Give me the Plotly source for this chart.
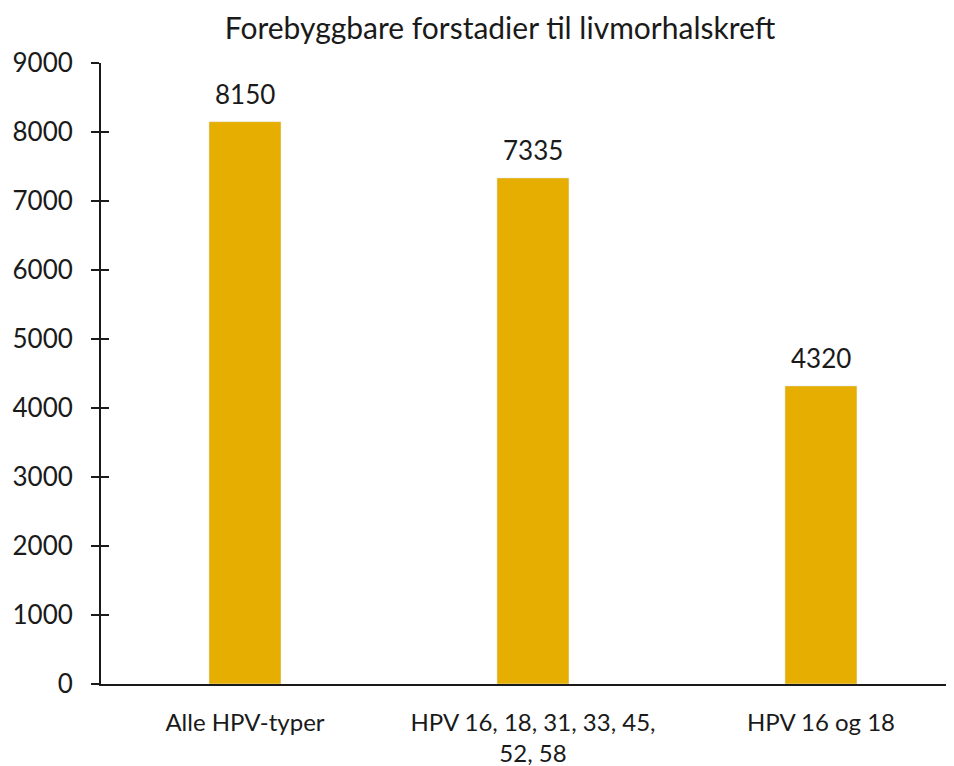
import plotly.graph_objects as go

categories = ["Alle HPV-typer", "HPV 16, 18, 31, 33, 45,<br>52, 58", "HPV 16 og 18"]
values = [8150, 7335, 4320]
value_labels = ["8150", "7335", "4320"]
y_ticks = [0, 1000, 2000, 3000, 4000, 5000, 6000, 7000, 8000, 9000]
title_text = "Forebyggbare forstadier til livmorhalskreft"

BAR = "#E5AE00"
INK = "#1a1a1a"
FONT = "Lato"
WEIGHT = 400

# page body adds an 8px margin; size figure to fit the window
W, H = 946, 758

fig = go.Figure()
fig.add_trace(go.Bar(
    x=[0, 1, 2], y=values, width=0.25,
    marker=dict(color=BAR, line=dict(width=0)),
    hoverinfo="skip",
))
# invisible trace to carry the inside-tick overlay axis
fig.add_trace(go.Bar(
    x=[0, 1, 2], y=values, width=0.25, yaxis="y2",
    marker=dict(color="rgba(0,0,0,0)"), hoverinfo="skip", showlegend=False,
))

for i, (v, lab) in enumerate(zip(values, value_labels)):
    fig.add_annotation(x=i, y=v, xref="x", yref="y", text=lab, showarrow=False,
                       yanchor="bottom", yshift=10,
                       font=dict(family=FONT, size=26, color=INK, weight=WEIGHT))

fig.update_layout(
    width=W, height=H,
    margin=dict(l=93, r=0, t=55, b=82, pad=0, autoexpand=False),
    paper_bgcolor="white", plot_bgcolor="white",
    showlegend=False,
    font=dict(family=FONT, color=INK, weight=WEIGHT),
    title=dict(text=title_text, x=492/W, xanchor="center", xref="container",
               y=1 - 20/H, yanchor="middle", yref="container",
               font=dict(family=FONT, size=30, color=INK, weight=WEIGHT)),
    xaxis=dict(range=[-0.5, 2.462], tickvals=[0, 1, 2], ticktext=categories,
               showline=True, linecolor=INK, linewidth=2, ticks="",
               showgrid=False, zeroline=False, automargin=False,
               tickfont=dict(family=FONT, size=24, color=INK, weight=WEIGHT),
               ticklabelstandoff=16),
    yaxis=dict(range=[0, 9000], tickvals=y_ticks, showline=True, linecolor=INK,
               linewidth=2, ticks="outside", ticklen=8, tickwidth=2, tickcolor=INK,
               showgrid=False, zeroline=False, automargin=False,
               tickfont=dict(family=FONT, size=26, color=INK, weight=WEIGHT),
               ticklabelstandoff=13),
    yaxis2=dict(range=[0, 9000], tickvals=y_ticks, overlaying="y", side="left",
                showline=False, ticks="inside", ticklen=8, tickwidth=2, tickcolor=INK,
                showticklabels=False, showgrid=False, zeroline=False, automargin=False),
)

fig.write_html("out.html")
